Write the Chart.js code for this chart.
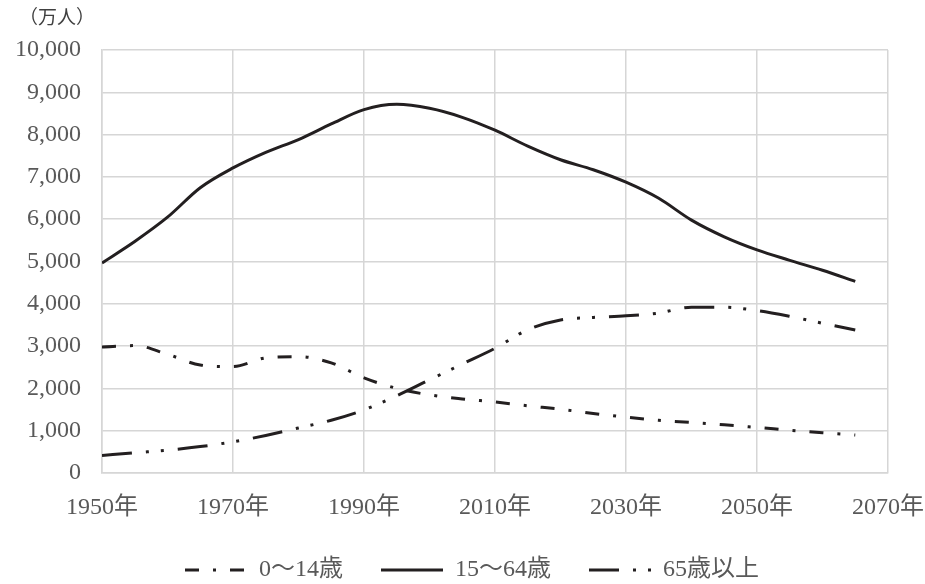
<!DOCTYPE html>
<html>
<head>
<meta charset="utf-8">
<script src="https://cdn.jsdelivr.net/npm/chart.js@4/dist/chart.umd.min.js"></script>
<style>
  html, body { margin: 0; padding: 0; background: #fff; }
  #wrap { width: 925px; height: 584px; }
</style>
</head>
<body>
<div id="wrap"><canvas id="chart" width="925" height="584"></canvas></div>
<script>
// 人口推移（万人）
var years = [1950, 1955, 1960, 1965, 1970, 1975, 1980, 1985, 1990, 1995, 2000, 2005,
             2010, 2015, 2020, 2025, 2030, 2035, 2040, 2045, 2050, 2055, 2060, 2065];
var young = [2979, 3012, 2807, 2553, 2515, 2722, 2751, 2603, 2249, 2001, 1847, 1752,
             1680, 1589, 1507, 1407, 1321, 1246, 1194, 1138, 1077, 1012, 951, 898];
var working = [4966, 5473, 6047, 6744, 7212, 7581, 7884, 8251, 8590, 8716, 8622, 8409,
               8103, 7728, 7406, 7170, 6875, 6494, 5978, 5584, 5275, 5028, 4793, 4529];
var old = [416, 479, 540, 624, 739, 887, 1065, 1247, 1493, 1828, 2204, 2576,
           2948, 3387, 3619, 3677, 3716, 3782, 3921, 3919, 3841, 3704, 3540, 3381];
var seriesNames = ['0〜14歳', '15〜64歳', '65歳以上'];
var yTicks = [0, 1000, 2000, 3000, 4000, 5000, 6000, 7000, 8000, 9000, 10000];
var xTicks = [1950, 1970, 1990, 2010, 2030, 2050, 2070];
var unitLabel = '（万人）';

var FONT = "'Liberation Serif', 'Noto Sans CJK JP', serif";
var INK = '#231f20';
var GRAY = '#595959';
var GRID = '#d6d6d6';

function toPoints(vals) {
    return years.map(function(y, i) { return {x: y, y: vals[i]}; });
}

var common = {
    borderColor: INK,
    borderWidth: 3,
    pointRadius: 0,
    fill: false,
    cubicInterpolationMode: 'monotone',
    borderCapStyle: 'butt'
};

// unit label top-left, like the original
var unitPlugin = {
    id: 'unitLabel',
    afterDraw: function(chart) {
        var ctx = chart.ctx;
        ctx.save();
        ctx.fillStyle = '#404040';
        ctx.font = "19px " + FONT;
        ctx.textBaseline = 'middle';
        ctx.textAlign = 'left';
        ctx.fillText(unitLabel, 19, 19);
        ctx.restore();
    }
};

new Chart(document.getElementById('chart'), {
    type: 'line',
    data: {
        datasets: [
            Object.assign({label: seriesNames[0], data: toPoints(young), borderDash: [14, 14, 3, 14]}, common),
            Object.assign({label: seriesNames[1], data: toPoints(working), borderDash: []}, common),
            Object.assign({label: seriesNames[2], data: toPoints(old), borderDash: [30, 14, 3, 12, 3, 14]}, common)
        ]
    },
    plugins: [unitPlugin],
    options: {
        responsive: false,
        animation: false,
        layout: { padding: { left: 0, right: -19, top: 50, bottom: -8 } },
        plugins: {
            legend: {
                position: 'bottom',
                labels: {
                    usePointStyle: true,
                    pointStyle: 'line',
                    pointStyleWidth: 62,
                    padding: 38,
                    color: GRAY,
                    font: { family: FONT, size: 24 },
                    generateLabels: function(chart) {
                        var items = Chart.defaults.plugins.legend.labels.generateLabels(chart);
                        items.forEach(function(it, i) {
                            it.lineDash = chart.data.datasets[i].borderDash;
                            it.lineWidth = 3;
                            it.strokeStyle = INK;
                            it.lineCap = 'butt';
                        });
                        return items;
                    }
                }
            },
            tooltip: { enabled: false }
        },
        scales: {
            x: {
                type: 'linear',
                min: xTicks[0],
                max: xTicks[xTicks.length - 1],
                afterBuildTicks: function(axis) {
                    axis.ticks = xTicks.map(function(v) { return {value: v}; });
                },
                afterFit: function(axis) {
                    axis.paddingRight = 37;
                    axis.height = 47;
                },
                ticks: {
                    color: GRAY,
                    padding: 20,
                    maxRotation: 0,
                    font: { family: FONT, size: 24 },
                    callback: function(v) { return v + '年'; }
                },
                grid: { color: GRID, lineWidth: 1.5, drawTicks: false },
                border: { color: GRID, width: 1.5 }
            },
            y: {
                min: yTicks[0],
                max: yTicks[yTicks.length - 1],
                afterBuildTicks: function(axis) {
                    axis.ticks = yTicks.map(function(v) { return {value: v}; });
                },
                afterFit: function(axis) { axis.width = 102; },
                ticks: {
                    color: GRAY,
                    padding: 21,
                    font: { family: FONT, size: 24 },
                    callback: function(v) { return v.toLocaleString('en-US'); }
                },
                grid: { color: GRID, lineWidth: 1.5, drawTicks: false },
                border: { color: GRID, width: 1.5 }
            }
        }
    }
});
</script>
</body>
</html>
